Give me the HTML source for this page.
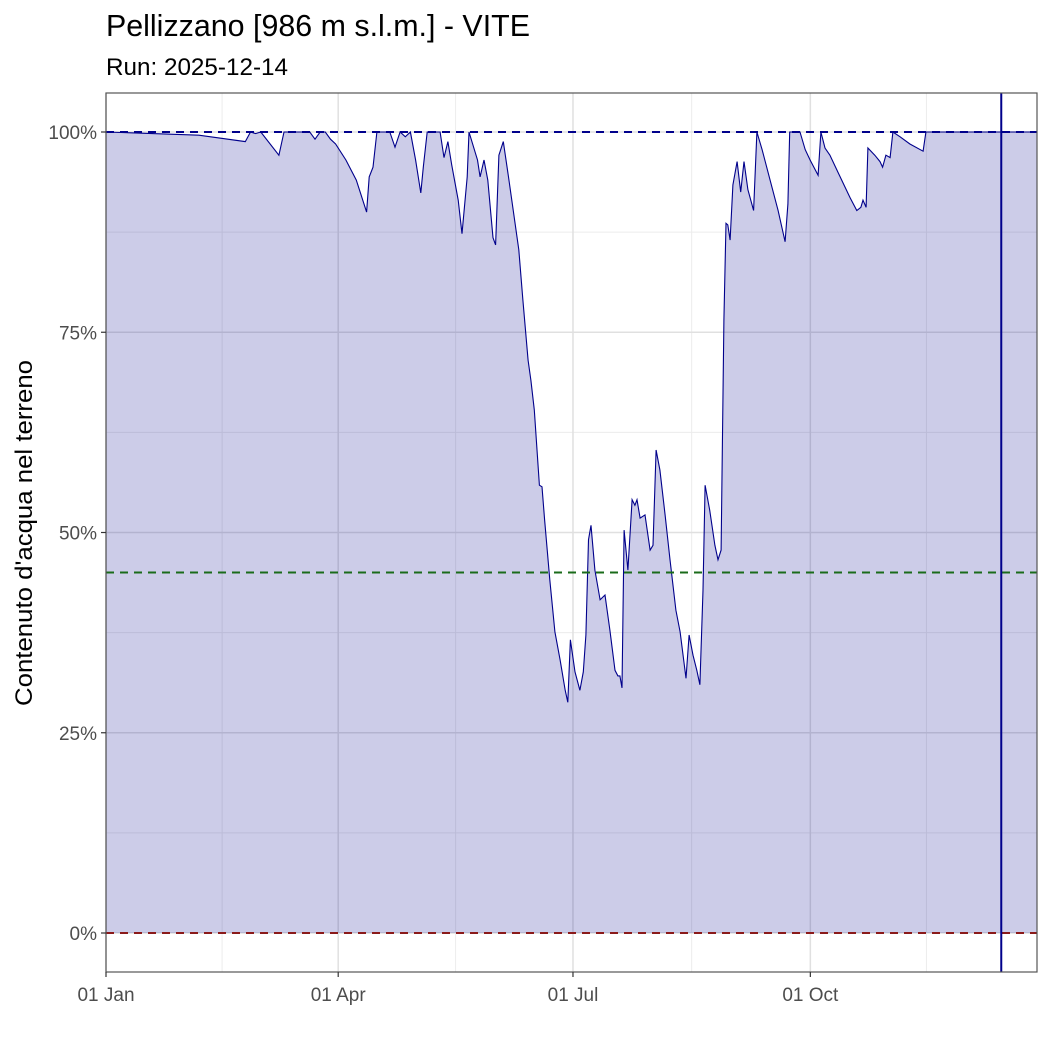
<!DOCTYPE html>
<html><head><meta charset="utf-8"><style>
html,body{margin:0;padding:0;background:#fff;}
svg text{font-family:"Liberation Sans Narrow","Liberation Sans",sans-serif;}
</style></head><body>
<svg id="chart" width="1050" height="1050" viewBox="0 0 1050 1050" xmlns="http://www.w3.org/2000/svg">
<text x="106" y="36" font-size="31" fill="#000" textLength="424" lengthAdjust="spacingAndGlyphs">Pellizzano [986 m s.l.m.] - VITE</text>
<text x="106" y="75" font-size="24" fill="#000" textLength="182" lengthAdjust="spacingAndGlyphs">Run: 2025-12-14</text>
<text transform="translate(32,533) rotate(-90)" text-anchor="middle" font-size="24" fill="#000" textLength="346" lengthAdjust="spacingAndGlyphs">Contenuto d'acqua nel terreno</text>
<g id="grid"></g><g id="marks"></g><g id="axes"></g>
</svg>
<script>
const days = [0,36,54,56,58,60,67,69,79,81,83,85,87,89,93,97,101,102,103.5,105,110,112,114,116,118,120,122,123,124.5,129.5,131,132.5,134,136.5,138,140,140.7,144,145,146.5,148,150,151,152.3,154,156,157,160,161.6,163.6,164.7,166,168,169,170,172,174,176,178,179,180,181.8,183.7,185,186,187,188,189.5,191.5,193.4,195.3,197.3,198.4,199.2,200,200.8,202.3,203.9,205,205.8,207,208.9,210.9,212,213.2,214.7,216.7,218.6,220.9,222.5,224.8,226,227.5,229,230.2,231.4,232.2,234,236,237.2,238.4,239.5,240.3,241,241.9,243,244.6,246,247.3,248.8,251,252.3,254.3,257.4,260.5,263.2,264.3,265,269,271,272.9,276,277.1,278.7,280.6,283.7,288.4,291,292.6,293.4,294.6,295.3,298,300,301,302.3,303.9,305,307.8,311.6,316.7,317.8,361];
const values = [100,99.6,98.8,100,99.8,100,97.1,100,100,99.1,100,100,99.1,98.5,96.5,94,90,94.4,95.6,100,100,98.1,100,99.4,100,96.5,92.4,95.6,100,100,96.8,98.8,95.9,91.5,87.3,94.4,100,96.5,94.4,96.5,94,86.8,85.9,97.1,98.8,94.4,92.1,85.3,79,71.5,69,65.3,55.9,55.7,51.6,44.1,37.6,34.1,30.3,28.8,36.6,32.6,30.3,32.6,37.2,49.1,50.9,45.3,41.6,42.2,37.8,32.8,32.1,32.1,30.6,50.3,45.3,54.1,53.4,54.1,51.8,52.2,47.8,48.4,60.3,57.8,52.2,46.6,40.3,37.6,31.8,37.2,34.7,32.8,31,42.8,55.9,52.8,48.4,46.6,47.8,76.5,88.6,88.4,86.5,93.4,96.3,92.5,96.3,92.8,90.2,100,97.8,94,90.2,86.3,91,100,100,97.8,96.5,94.6,100,98,97.1,95,91.8,90.2,90.6,91.5,90.6,98,97.1,96.3,95.6,97.1,96.8,100,99.4,98.5,97.6,100,100];
const xTicks = [0,90,181,273];
const xTickLabels = ["01 Jan","01 Apr","01 Jul","01 Oct"];
const xMinor = [45,135.5,227,318];
const yTicks = [0,25,50,75,100];
const yTickLabels = ["0%","25%","50%","75%","100%"];
const yMinor = [12.5,37.5,62.5,87.5];
const thresholds = [100,45,0];
const thresholdColors = ["#00008b","#1a6b1a","#8b1a1a"];
const runDay = 347;

const L=106,R=1037,T=93,B=972;
const x=d=>L+d*2.58;
const y=v=>933-v*8.01;
const NS="http://www.w3.org/2000/svg";
function mk(tag,attrs,parent){const e=document.createElementNS(NS,tag);for(const k in attrs)e.setAttribute(k,attrs[k]);parent.appendChild(e);return e;}
const grid=document.getElementById('grid'),marks=document.getElementById('marks'),axes=document.getElementById('axes');
mk('rect',{x:L,y:T,width:R-L,height:B-T,fill:'#fff'},grid);
yMinor.forEach(v=>{const e=mk('line',{x1:L,x2:R,y1:y(v),y2:y(v),stroke:'#ececec','stroke-width':1},grid);

});
xMinor.forEach(d=>{const e=mk('line',{x1:x(d),x2:x(d),y1:T,y2:B,stroke:'#ececec','stroke-width':1},grid);

});
yTicks.forEach(v=>{const e=mk('line',{x1:L,x2:R,y1:y(v),y2:y(v),stroke:'#e0e0e0','stroke-width':1.5},grid);

});
xTicks.forEach(d=>{const e=mk('line',{x1:x(d),x2:x(d),y1:T,y2:B,stroke:'#e0e0e0','stroke-width':1.5},grid);

});
let pts=days.map((d,i)=>x(d).toFixed(1)+','+y(values[i]).toFixed(1));
const area=mk('polygon',{points:x(days[0])+','+y(0)+' '+pts.join(' ')+' '+x(days[days.length-1])+','+y(0),fill:'rgba(0,0,139,0.2)'},marks);


const line=mk('polyline',{points:pts.join(' '),fill:'none',stroke:'#00008b','stroke-width':1.1},marks);


thresholds.forEach((v,i)=>{const e=mk('line',{x1:L,x2:R,y1:y(v),y2:y(v),stroke:thresholdColors[i],'stroke-width':2,'stroke-dasharray':'8,6'},marks);

});
const rl=mk('line',{x1:x(runDay),x2:x(runDay),y1:T,y2:B,stroke:'#00008b','stroke-width':2},marks);


const fr=mk('rect',{x:L,y:T,width:R-L,height:B-T,fill:'none',stroke:'#555','stroke-width':1.2},axes);


yTicks.forEach((v,i)=>{mk('line',{x1:L-5,x2:L,y1:y(v),y2:y(v),stroke:'#333','stroke-width':1.2},axes);
const t=mk('text',{x:L-9,y:y(v)+7,'text-anchor':'end','font-size':19,fill:'#4d4d4d'},axes);t.textContent=yTickLabels[i];

});
xTicks.forEach((d,i)=>{mk('line',{x1:x(d),x2:x(d),y1:B,y2:B+5,stroke:'#333','stroke-width':1.2},axes);
const t=mk('text',{x:x(d),y:B+29,'text-anchor':'middle','font-size':19,fill:'#4d4d4d'},axes);t.textContent=xTickLabels[i];

});
</script>
</body></html>
